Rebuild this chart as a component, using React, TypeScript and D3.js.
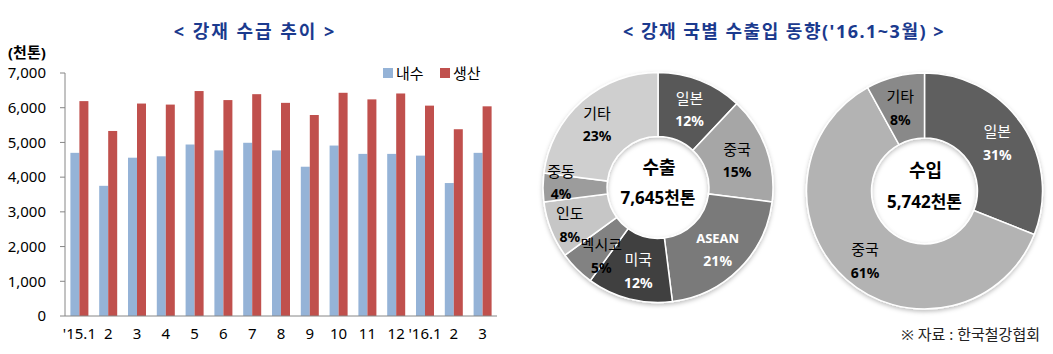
import React from 'react';
import * as d3 from 'd3';

// Bar chart data (천톤)
const monthLabels = ["'15.1", '2', '3', '4', '5', '6', '7', '8', '9', '10', '11', '12', "'16.1", '2', '3'];
const domestic = [4700, 3750, 4560, 4600, 4940, 4770, 4990, 4770, 4300, 4910, 4670, 4670, 4620, 3830, 4700];
const production = [6190, 5330, 6120, 6090, 6480, 6220, 6390, 6140, 5790, 6430, 6240, 6410, 6060, 5380, 6040];
const yTicks = [0, 1000, 2000, 3000, 4000, 5000, 6000, 7000];
const seriesNames = ['내수', '생산'];

// Export donut
const exportNames = ['일본', '중국', 'ASEAN', '미국', '멕시코', '인도', '중동', '기타'];
const exportShares = [12, 15, 21, 12, 5, 8, 4, 23];
const exportTotal = '7,645천톤';

// Import donut
const importNames = ['일본', '중국', '기타'];
const importShares = [31, 61, 8];
const importTotal = '5,742천톤';

const BLUE = '#95B3D7';
const RED = '#C0504D';
const TITLE = '#1B3A8E';
const FONT = '"Noto Sans", "Noto Sans CJK KR", sans-serif';

const exportFills = ['#595959', '#a6a6a6', '#7a7a7a', '#404040', '#828282', '#c6c6c6', '#9c9c9c', '#cfcfcf'];
const exportText = ['#fff', '#000', '#fff', '#fff', '#000', '#000', '#000', '#000'];
const exportNudge: [number, number][] = [[1, 0], [1, 2], [1, 4], [1, 4], [2, 11], [-11, 8], [-14, -4], [-6, 0]];

const importFills = ['#5e5e5e', '#b3b3b3', '#898989'];
const importText = ['#fff', '#000', '#000'];
const importNudge: [number, number][] = [[2, 1], [-3, 7], [-3, 1]];

function BarChart() {
  const margin = { left: 65, right: 497, top: 73, bottom: 316 };
  const idx = monthLabels.map((_, i) => i);
  const x = d3.scaleBand<number>().domain(idx).range([margin.left, margin.right]);
  const groupW = x.bandwidth() * 0.625;
  const xs = d3.scaleBand<string>().domain(seriesNames).range([0, groupW]);
  const y = d3.scaleLinear().domain([0, 7000]).range([margin.bottom, margin.top]);
  const fmt = d3.format(',');
  const series = [domestic, production];
  const colors = [BLUE, RED];

  return (
    <g fontFamily={FONT}>
      <text x={255} y={38} textAnchor="middle" fontSize={18} fontWeight="bold" fill={TITLE} letterSpacing={2}>
        {'< 강재 수급 추이 >'}
      </text>
      <text x={8} y={58} fontSize={15} fontWeight="bold" fill="#000">(천톤)</text>

      {/* y axis */}
      <line x1={margin.left} x2={margin.left} y1={y(7000)} y2={y(0)} stroke="#868686" />
      {yTicks.map(t => (
        <g key={t}>
          <line x1={margin.left - 5} x2={margin.left} y1={y(t)} y2={y(t)} stroke="#868686" />
          <text x={46} y={y(t)} dy="0.35em" textAnchor="end" fontSize={15} fill="#000">{fmt(t)}</text>
        </g>
      ))}

      {/* bars */}
      {series.map((vals, s) => vals.map((v, i) => (
        <rect
          key={`${s}-${i}`}
          x={(x(i) as number) + (x.bandwidth() - groupW) / 2 + (xs(seriesNames[s]) as number)}
          y={y(v)}
          width={xs.bandwidth()}
          height={y(0) - y(v)}
          fill={colors[s]}
        />
      )))}

      {/* x axis */}
      <line x1={margin.left} x2={margin.right} y1={y(0)} y2={y(0)} stroke="#868686" />
      {idx.map(i => (
        <text key={i} x={(x(i) as number) + x.bandwidth() / 2} y={339} textAnchor="middle" fontSize={15} fill="#000">
          {monthLabels[i]}
        </text>
      ))}

      {/* legend */}
      {seriesNames.map((n, s) => (
        <g key={n} transform={`translate(${383 + s * 57},0)`}>
          <rect x={0} y={68} width={10} height={10} fill={colors[s]} />
          <text x={13} y={79} fontSize={15} fill="#000">{n}</text>
        </g>
      ))}
    </g>
  );
}

interface DonutProps {
  cx: number;
  cy: number;
  outer: number;
  inner: number;
  names: string[];
  shares: number[];
  fills: string[];
  textFills: string[];
  nudge: [number, number][];
  center: string;
  total: string;
}

function Donut({ cx, cy, outer, inner, names, shares, fills, textFills, nudge, center, total }: DonutProps) {
  const pie = d3.pie<number>().sort(null).value(d => d);
  const arcs = pie(shares);
  const arc = d3.arc<d3.PieArcDatum<number>>().innerRadius(inner).outerRadius(outer);
  const labelArc = d3.arc<d3.PieArcDatum<number>>().innerRadius((inner + outer) / 2).outerRadius((inner + outer) / 2);

  return (
    <g transform={`translate(${cx},${cy})`} fontFamily={FONT}>
      <g filter="url(#shadow)">
        {arcs.map((a, i) => (
          <path key={i} d={arc(a) as string} fill={fills[i]} stroke="#fff" strokeWidth={1.5} />
        ))}
      </g>
      {arcs.map((a, i) => {
        const [lx, ly] = labelArc.centroid(a);
        const px = lx + nudge[i][0];
        const py = ly + nudge[i][1];
        const isAscii = /^[A-Z]+$/.test(names[i]);
        return (
          <g key={i} fill={textFills[i]}>
            <text x={px} y={py - 12} dy="0.35em" textAnchor="middle" fontSize={isAscii ? 13 : 15}
              fontWeight={isAscii ? 'bold' : 'normal'}>
              {names[i]}
            </text>
            <text x={px} y={py + 11} dy="0.35em" textAnchor="middle" fontSize={14} fontWeight="bold">
              {shares[i]}%
            </text>
          </g>
        );
      })}
      <text x={1} y={-20} dy="0.35em" textAnchor="middle" fontSize={18} fontWeight="bold" fill="#000">{center}</text>
      <text x={0} y={11} dy="0.35em" textAnchor="middle" fontSize={17} fontWeight="bold" fill="#000">{total}</text>
    </g>
  );
}

export default function App() {
  return (
    <svg width={1053} height={354} style={{ position: 'absolute', left: 0, top: 0, background: '#fff' }}>
      <defs>
        <filter id="shadow" x="-20%" y="-20%" width="140%" height="140%">
          <feDropShadow dx={0} dy={2} stdDeviation={2} floodColor="#000" floodOpacity={0.25} />
        </filter>
      </defs>
      <rect width={1053} height={354} fill="#fff" />
      <BarChart />
      <text x={784} y={38} textAnchor="middle" fontSize={18} fontWeight="bold" fill={TITLE} fontFamily={FONT}
        letterSpacing={1.5}>
        {"< 강재 국별 수출입 동향('16.1~3월) >"}
      </text>
      <Donut cx={658} cy={187.5} outer={115} inner={51} names={exportNames} shares={exportShares}
        fills={exportFills} textFills={exportText} nudge={exportNudge} center="수출" total={exportTotal} />
      <Donut cx={924.5} cy={191} outer={118} inner={53} names={importNames} shares={importShares}
        fills={importFills} textFills={importText} nudge={importNudge} center="수입" total={importTotal} />
      <text x={1040} y={340} textAnchor="end" fontSize={15} fill="#222" fontFamily={FONT}>
        ※ 자료 : 한국철강협회
      </text>
    </svg>
  );
}
